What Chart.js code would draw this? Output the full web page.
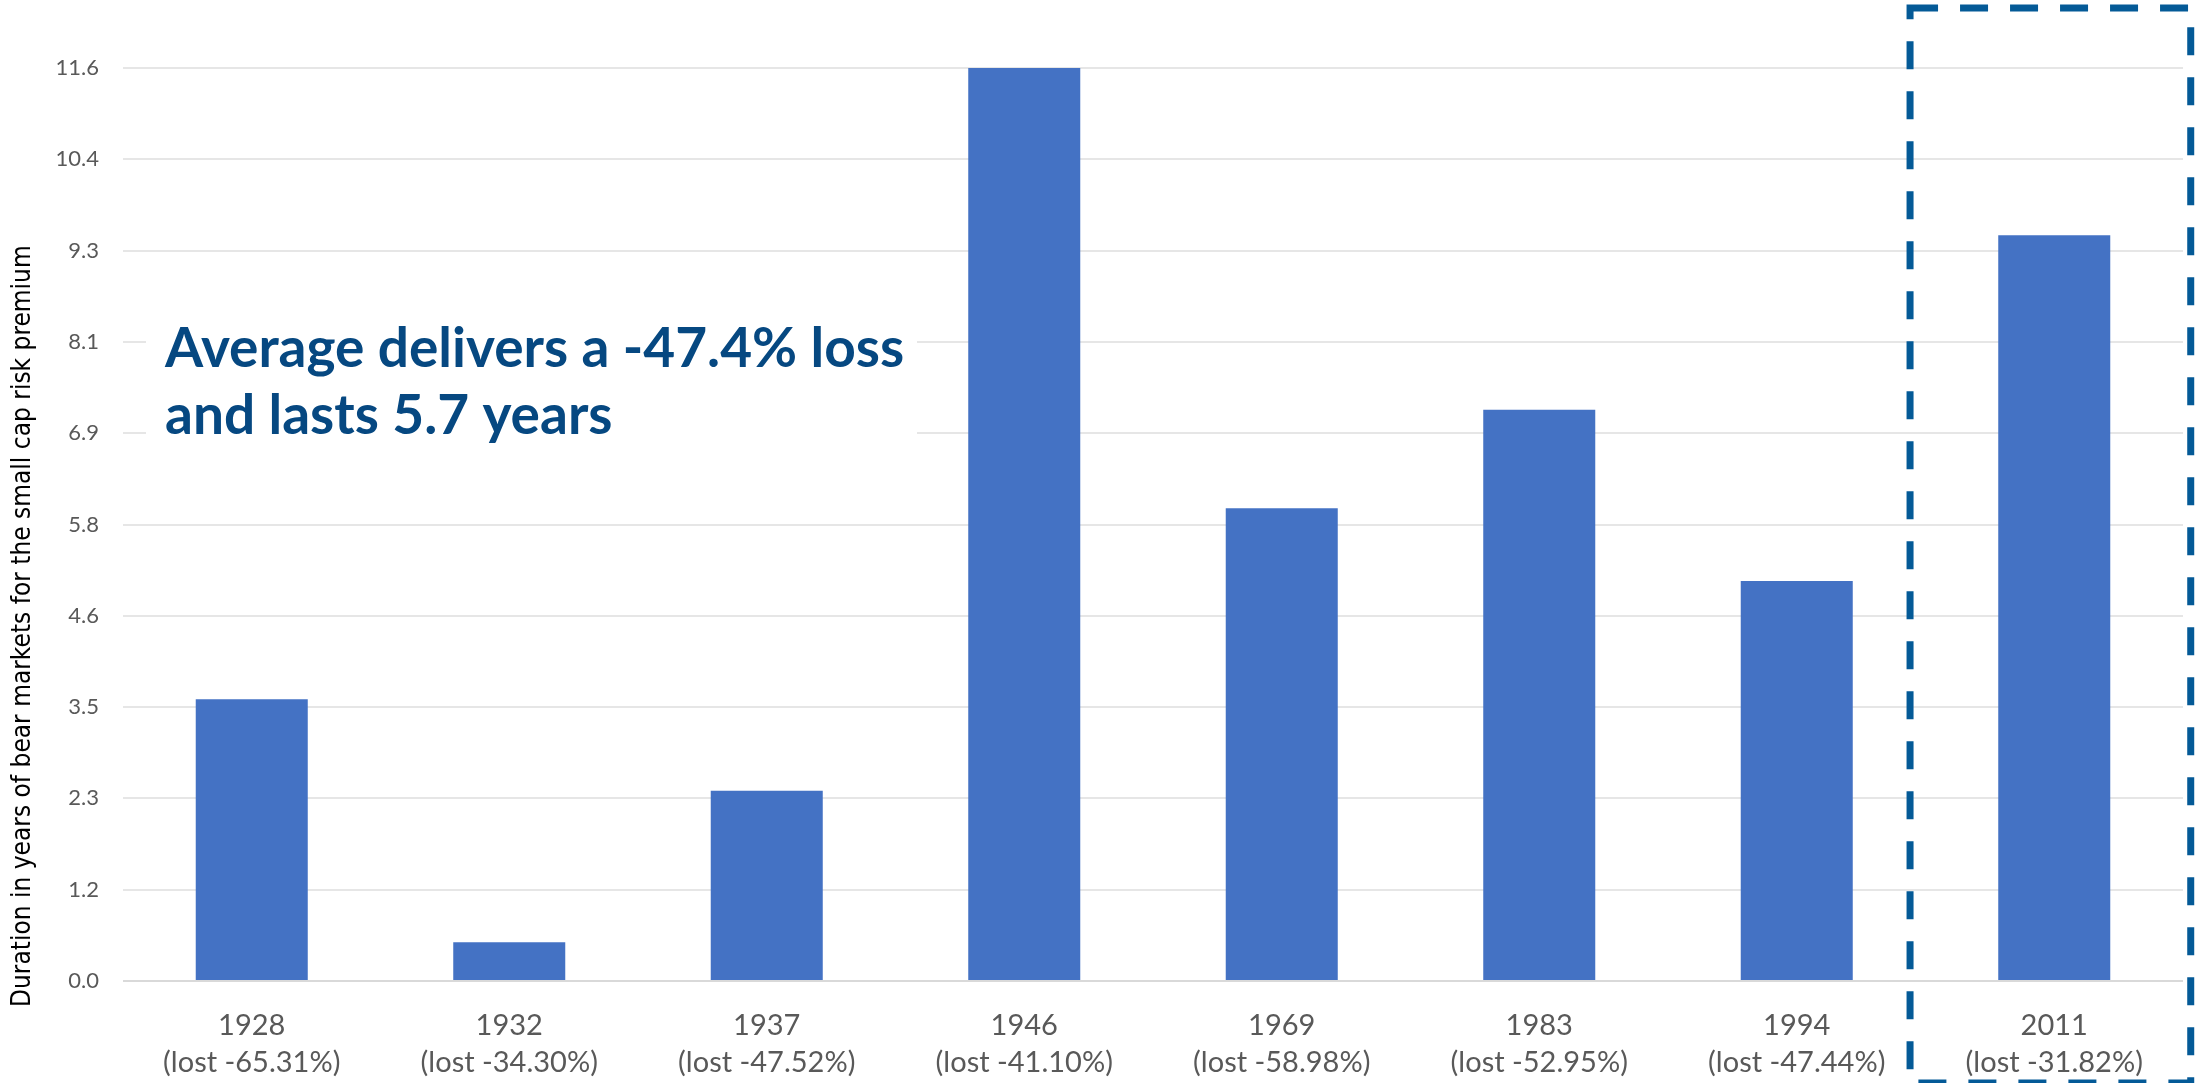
<!DOCTYPE html>
<html>
<head>
<meta charset="utf-8">
<title>Small cap risk premium bear markets</title>
<script src="https://cdn.jsdelivr.net/npm/chart.js@4.4.1/dist/chart.umd.min.js"></script>
<style>
  html, body { margin: 0; padding: 0; background: #ffffff; }
  #wrap { width: 2195px; height: 1083px; }
</style>
</head>
<body>
<div id="wrap"><canvas id="bear_markets"></canvas></div>
<script>
// bear market start years and the loss over each one
const years = ['1928', '1932', '1937', '1946', '1969', '1983', '1994', '2011'];
const losses = ['-65.31%', '-34.30%', '-47.52%', '-41.10%', '-58.98%', '-52.95%', '-47.44%', '-31.82%'];
// duration of each bear market, in years
const durations = [3.57, 0.49, 2.41, 11.57, 5.99, 7.24, 5.07, 9.45];
// y axis runs from zero to the longest bear market in ten equal steps
const axisMax = 11.57;
const axisSteps = 10;

const yTitle = 'Duration in years of bear markets for the small cap risk premium';
const calloutLines = ['Average delivers a -47.4% loss', 'and lasts 5.7 years'];
const highlightIndex = 7;

const labels_bear = years.map((y, i) => [y, '(lost ' + losses[i] + ')']);

// text box over the grid, left side of the plot
const callout = {
    id: 'callout',
    beforeDatasetsDraw(chart) {
        const ctx = chart.ctx;
        const a = chart.chartArea;
        ctx.save();
        ctx.fillStyle = '#ffffff';
        ctx.fillRect(a.left + 23, 270, 771, 235);
        ctx.fillStyle = '#064881';
        ctx.font = 'bold 55px Lato';
        ctx.textBaseline = 'alphabetic';
        ctx.fillText(calloutLines[0], a.left + 42, 367);
        ctx.fillText(calloutLines[1], a.left + 42, 434);
        ctx.restore();
    }
};

// rotated axis title and the dashed frame round the latest bear market
const extras = {
    id: 'extras',
    afterDraw(chart) {
        const ctx = chart.ctx;
        const a = chart.chartArea;
        const x = chart.scales.x;

        ctx.save();
        ctx.translate(30, a.bottom + 26);
        ctx.rotate(-Math.PI / 2);
        ctx.fillStyle = '#000000';
        ctx.font = '26px "Liberation Sans Narrow", "DejaVu Sans Condensed", sans-serif';
        ctx.textAlign = 'left';
        ctx.textBaseline = 'alphabetic';
        ctx.fillText(yTitle, 0, 0);
        ctx.restore();

        const cx = x.getPixelForValue(highlightIndex);
        const catW = (x.right - x.left) / years.length;
        ctx.save();
        ctx.strokeStyle = '#045A97';
        ctx.lineWidth = 7;
        ctx.setLineDash([28, 22]);
        ctx.strokeRect(cx - 0.56 * catW, 8, 1.09 * catW, chart.height - 8);
        ctx.restore();
    }
};

const data_bear = {
    labels: labels_bear,
    datasets: [{
        label: 'Duration (years)',
        data: durations,
        backgroundColor: '#4472C4',
        borderWidth: 0,
        categoryPercentage: 1.0,
        barPercentage: 0.435
    }]
};

const config_bear = {
    type: 'bar',
    data: data_bear,
    options: {
        responsive: true,
        maintainAspectRatio: false,
        animation: false,
        layout: { padding: { top: 68, right: 12, left: 0, bottom: 0 } },
        plugins: {
            legend: { display: false },
            tooltip: { enabled: false }
        },
        scales: {
            x: {
                grid: { display: false, drawTicks: false },
                border: { display: false },
                ticks: {
                    color: '#595959',
                    padding: 27,
                    maxRotation: 0,
                    autoSkip: false,
                    font: { family: 'Lato', size: 29, lineHeight: 1.25 }
                },
                afterFit(scale) { scale.height = 102; }
            },
            y: {
                min: 0,
                max: axisMax,
                grid: {
                    color: (c) => c.tick && c.tick.value === 0 ? '#D9D9D9' : '#E6E6E6',
                    lineWidth: 2,
                    drawTicks: false
                },
                border: { display: false },
                ticks: {
                    color: '#595959',
                    padding: 24,
                    font: { family: 'Lato', size: 22 },
                    callback: (v) => Number(v).toFixed(1)
                },
                afterBuildTicks(scale) {
                    const t = [];
                    for (let i = 0; i <= axisSteps; i++) t.push({ value: axisMax * i / axisSteps });
                    scale.ticks = t;
                },
                afterFit(scale) { scale.width = 123; }
            }
        }
    },
    plugins: [callout, extras]
};

const grafico_bear = new Chart(
    document.getElementById('bear_markets'),
    config_bear
);
</script>
</body>
</html>
